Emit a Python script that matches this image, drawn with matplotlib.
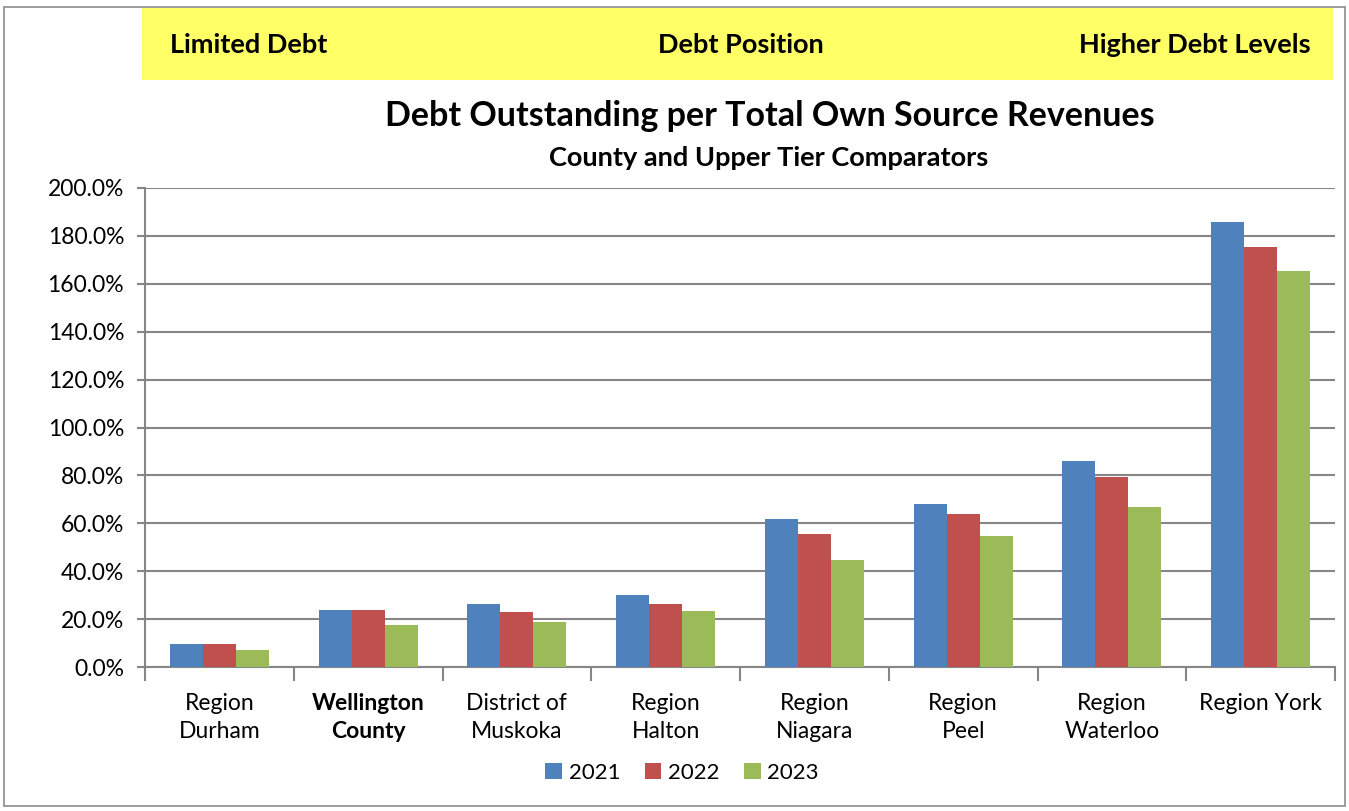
import matplotlib.pyplot as plt
import numpy as np
from matplotlib.patches import Rectangle
from matplotlib.ticker import FuncFormatter

plt.rcParams['font.family'] = ['Lato', 'DejaVu Sans']

categories = ['Region\nDurham', 'Wellington\nCounty', 'District of\nMuskoka', 'Region\nHalton',
              'Region\nNiagara', 'Region\nPeel', 'Region\nWaterloo', 'Region York']
years = ['2021', '2022', '2023']
v2021 = [9.6, 23.8, 26.3, 29.9, 61.7, 68.2, 86.2, 185.8]
v2022 = [9.5, 23.9, 22.8, 26.3, 55.6, 63.7, 79.2, 175.5]
v2023 = [7.0, 17.5, 18.7, 23.3, 44.7, 54.7, 66.8, 165.5]
colors = ['#4F81BD', '#C0504D', '#9BBB59']

W, H = 1349, 811
fig = plt.figure(figsize=(W / 100, H / 100), dpi=100)

# outer frame and yellow banner
fig.patches.append(Rectangle((4 / W, 1 - 806 / H), 1341 / W, 799 / H, transform=fig.transFigure,
                             fill=False, edgecolor='#8c8c8c', lw=1.2))
fig.patches.append(Rectangle((142 / W, 1 - 80 / H), 1191 / W, 72 / H, transform=fig.transFigure,
                             facecolor='#FFFF66', edgecolor='none'))
fig.text(170 / W, 1 - 45 / H, 'Limited Debt', fontsize=19.5, fontweight='bold', va='center', ha='left')
fig.text(741 / W, 1 - 45 / H, 'Debt Position', fontsize=19.5, fontweight='bold', va='center', ha='center')
fig.text(1311 / W, 1 - 45 / H, 'Higher Debt Levels', fontsize=19.5, fontweight='bold', va='center', ha='right')

fig.text(770 / W, 1 - 116 / H, 'Debt Outstanding per Total Own Source Revenues',
         fontsize=24.5, fontweight='bold', va='center', ha='center')
fig.text(769 / W, 1 - 158 / H, 'County and Upper Tier Comparators',
         fontsize=19.5, fontweight='bold', va='center', ha='center')

ax = fig.add_axes([145 / W, 1 - 667 / H, 1190 / W, 479 / H])
x = np.arange(len(categories))
bw = 0.222
for i, (vals, c, yr) in enumerate(zip([v2021, v2022, v2023], colors, years)):
    ax.bar(x + (i - 1) * bw, vals, width=bw, color=c, label=yr, zorder=3)

ax.set_xlim(-0.5, len(categories) - 0.5)
ax.set_ylim(0, 200)
ax.set_yticks(np.arange(0, 201, 20))
ax.yaxis.set_major_formatter(FuncFormatter(lambda v, p: f'{v:.1f}%'))
ax.grid(axis='y', color='#868686', lw=1.5, zorder=0)
ax.set_xticks(np.arange(-0.5, len(categories), 1))
ax.set_xticklabels([])
ax.set_xticks(x, minor=True)
ax.set_xticklabels(categories, minor=True, fontsize=16.5, linespacing=1.4)
ax.tick_params(axis='x', which='minor', length=0, pad=19)
ax.tick_params(axis='x', which='major', length=10, color='#868686', width=1.5)
ax.tick_params(axis='y', length=6, color='#868686', width=1.5, labelsize=16.5, pad=9)
for lbl in ax.get_xticklabels(minor=True):
    if lbl.get_text().startswith('Wellington'):
        lbl.set_fontweight('bold')
for s in ['top', 'right']:
    ax.spines[s].set_visible(False)
for s in ['left', 'bottom']:
    ax.spines[s].set_color('#868686')
    ax.spines[s].set_linewidth(1.5)

ax.legend(loc='center', bbox_to_anchor=(682 / W, 1 - 773 / H), bbox_transform=fig.transFigure,
          ncol=3, frameon=False, fontsize=16, handlelength=0.75, handleheight=0.75,
          handletextpad=0.3, columnspacing=1.1)

fig.savefig('out.png', dpi=100)
